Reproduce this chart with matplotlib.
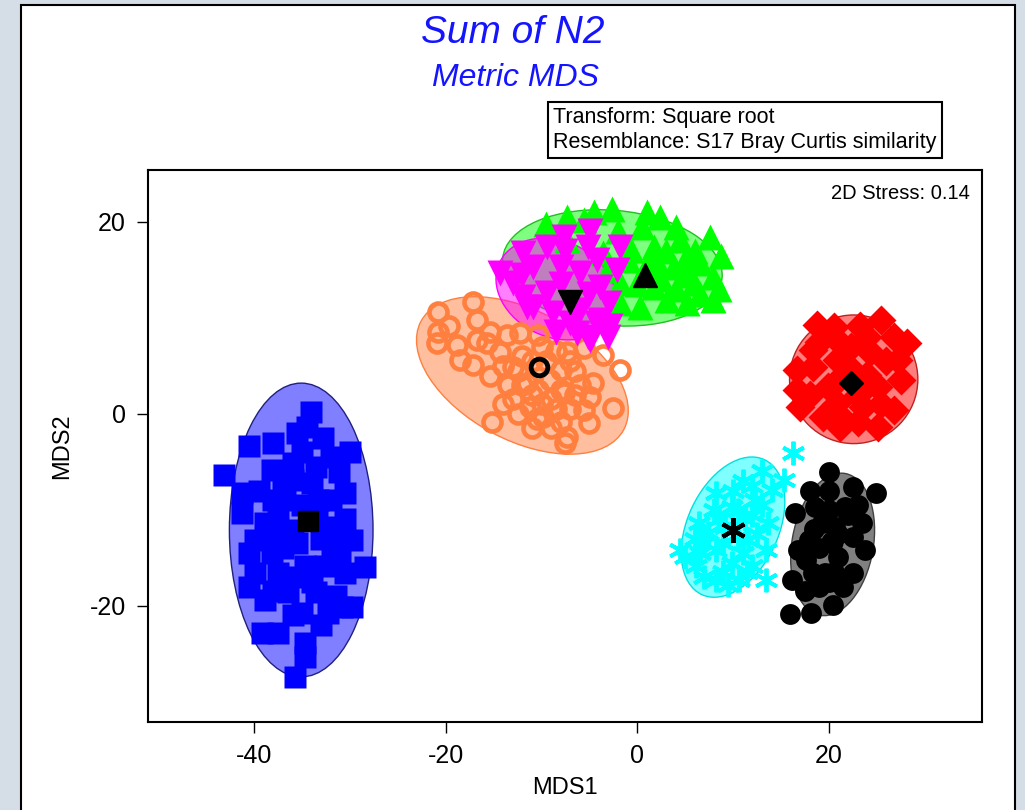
import matplotlib
matplotlib.use('Agg')
import matplotlib.pyplot as plt
from matplotlib.patches import Ellipse, Rectangle
from matplotlib.colors import to_rgba

plt.rcParams['font.family'] = ['Liberation Sans', 'DejaVu Sans']
plt.rcParams['axes.unicode_minus'] = False

# MDS scores per group
blue_pts = [(-34.1, 0.2), (-40.6, -3.4), (-38.0, -3.0), (-35.5, -2.0), (-32.8, -2.5), (-34.5, -1.4),
            (-43.2, -6.4), (-41.3, -8.2), (-41.3, -10.3), (-38.1, -5.8), (-36.0, -5.1), (-33.6, -5.5),
            (-31.2, -6.1), (-30.5, -8.2), (-30.5, -11.0), (-29.8, -13.1), (-28.4, -16.0), (-38.9, -11.4),
            (-36.8, -9.0), (-33.3, -9.0), (-38.1, -14.5), (-39.9, -16.6), (-40.6, -18.0), (-37.5, -16.6),
            (-34.7, -15.9), (-32.6, -15.9), (-30.5, -16.6), (-38.9, -19.4), (-36.5, -18.6), (-33.6, -18.6),
            (-30.8, -20.1), (-29.8, -20.1), (-32.3, -20.7), (-39.2, -22.8), (-37.5, -22.8), (-34.7, -23.9),
            (-34.7, -25.3), (-35.7, -27.4), (-35.0, -20.7), (-38.1, -12.4), (-36.0, -12.1), (-31.9, -11.8),
            (-31.9, -13.9), (-36.0, -6.9), (-34.0, -7.2), (-39.9, -13.1), (-35.0, -4.0), (-33.0, -13.0),
            (-37.0, -8.0), (-35.0, -9.5), (-32.0, -9.0), (-37.5, -11.0), (-33.5, -11.0), (-35.5, -13.5),
            (-37.0, -14.0), (-31.0, -15.0), (-34.0, -17.5), (-36.0, -17.0), (-31.5, -19.0), (-38.0, -18.5),
            (-36.0, -21.0), (-33.0, -22.0), (-39.5, -8.0), (-38.0, -9.0), (-32.0, -4.5), (-30.0, -4.0),
            (-40.5, -14.5)]
orange_pts = [(-20.8, 10.6), (-17.2, 11.6), (-16.7, 9.8), (-20.8, 8.5), (-20.9, 7.4), (-18.8, 7.2),
              (-18.5, 5.6), (-16.7, 7.7), (-17.2, 5.1), (-15.4, 8.5), (-15.4, 3.9), (-13.6, 8.2),
              (-12.2, 8.4), (-10.4, 8.2), (-14.3, 6.4), (-13.0, 4.9), (-13.0, 1.5), (-11.2, 0.7),
              (-9.8, -0.3), (-8.0, -0.9), (-7.3, -2.4), (-7.5, -3.0), (-15.2, -0.9), (-9.1, 3.5),
              (-7.7, 2.2), (-5.6, 0.4), (-4.6, 3.2), (-4.9, 1.8), (-5.6, 6.9), (-3.6, 6.1),
              (-1.8, 4.6), (-2.5, 0.6), (-7.3, 6.4), (-11.5, 3.2), (-15.7, 7.4), (-19.7, 9.1),
              (-10.4, 2.5), (-8.0, 4.6), (-12.0, 6.0), (-9.0, 1.5), (-6.5, 4.5), (-11.0, -1.5),
              (-12.0, 3.0), (-10.0, 1.0), (-8.0, 2.5), (-6.5, 2.0), (-9.0, -1.5), (-11.0, 5.5),
              (-13.5, 3.0), (-7.0, 0.5), (-5.0, -1.0), (-14.0, 1.0), (-8.5, 6.5), (-12.5, 0.0),
              (-10.0, 7.0), (-11.0, 2.0), (-9.5, 5.5), (-8.5, 0.5), (-6.0, 3.0), (-10.5, -0.5),
              (-12.5, 4.5), (-7.0, 5.5), (-14.0, 5.0)]
magenta_pts = [(-14.3, 14.7), (-13.0, 13.6), (-11.9, 12.2), (-10.9, 11.1), (-11.9, 16.8), (-9.4, 17.4),
               (-8.0, 15.3), (-4.9, 19.0), (-5.2, 17.4), (-1.8, 17.4), (-2.1, 15.0), (-3.9, 13.2),
               (-6.0, 14.7), (-9.4, 12.6), (-6.0, 10.8), (-3.9, 9.8), (-2.8, 9.1), (-6.3, 8.4),
               (-8.8, 10.5), (-10.9, 15.3), (-7.7, 18.4), (-4.2, 16.0), (-4.9, 7.7), (-11.5, 11.1),
               (-5.2, 8.0), (-3.1, 8.0), (-4.2, 9.5), (-8.0, 13.5), (-7.0, 9.5), (-5.0, 12.5),
               (-7.5, 17.0), (-3.0, 11.5), (-12.0, 14.5), (-8.5, 8.5)]
green_pts = [(-7.3, 20.5), (-5.6, 20.2), (-2.6, 21.3), (2.4, 20.5), (4.5, 18.1), (7.6, 18.4),
             (8.7, 16.4), (7.9, 14.3), (7.9, 11.9), (5.2, 11.5), (3.1, 11.9), (0.3, 11.1),
             (-1.8, 11.5), (-0.7, 17.1), (3.8, 15.3), (5.9, 13.6), (-3.6, 16.8), (-3.1, 15.0),
             (1.7, 17.4), (-1.8, 13.6), (1.7, 13.2), (-7.3, 18.1), (6.6, 15.7), (-9.5, 19.8),
             (0.5, 19.5), (3.0, 17.0), (5.0, 16.0), (1.0, 15.5), (2.5, 14.0), (4.0, 13.0),
             (6.5, 12.5), (0.0, 13.5), (-2.0, 19.0), (1.0, 21.0), (4.0, 19.5), (6.0, 17.0),
             (8.5, 13.0), (-4.5, 21.0), (2.0, 16.0), (-1.0, 16.0), (5.0, 14.5)]
red_pts = [(18.8, 9.3), (20.5, 8.0), (25.4, 9.8), (28.2, 7.4), (26.8, 8.0), (23.3, 9.1),
           (16.7, 4.6), (18.4, 4.9), (16.7, 2.5), (17.0, 0.7), (19.4, -0.3), (21.2, -1.4),
           (23.0, -0.9), (25.1, -1.4), (26.8, 0.4), (27.5, 3.5), (27.2, 5.6), (24.3, 6.4),
           (20.9, 5.6), (19.9, 2.8), (25.1, 2.8), (23.6, 0.7), (20.9, 1.1), (22.3, 7.0), (18.4, 6.7),
           (22.0, 5.0), (24.0, 4.0), (21.0, 3.5), (23.0, 2.0), (19.0, 7.5), (24.0, 8.0),
           (26.0, 5.5), (21.5, -0.5), (18.0, 2.0), (25.5, 1.0), (20.5, 9.0)]
cyan_pts = [(16.3, -4.1), (15.3, -6.9), (4.5, -14.2), (13.4, -17.3), (8.2, -8.2), (6.4, -11.4),
            (9.9, -9.7), (12.3, -9.0), (13.7, -11.4), (11.6, -13.1), (8.2, -14.2), (6.1, -15.9),
            (8.2, -17.3), (10.6, -17.3), (12.0, -15.9), (13.4, -14.2), (9.9, -15.5), (7.4, -12.4),
            (11.3, -11.0), (14.1, -7.9), (9.2, -11.8), (5.0, -14.9), (11.0, -7.0), (7.0, -17.0),
            (12.5, -12.5), (9.0, -13.5), (10.0, -8.0), (12.0, -10.5), (8.0, -10.0), (7.0, -13.5),
            (11.0, -14.5), (9.0, -16.5), (12.0, -7.5), (13.0, -9.5), (6.0, -13.0), (10.5, -12.8),
            (8.5, -11.0), (10.5, -10.0), (6.5, -14.5), (11.5, -16.5), (13.0, -6.0), (9.5, -17.8)]
black_pts = [(20.0, -6.1), (24.9, -8.2), (16.5, -10.3), (16.2, -17.3), (16.0, -20.9), (18.1, -20.7),
             (20.4, -19.9), (22.5, -16.6), (23.8, -14.2), (23.5, -11.4), (22.5, -7.6), (18.6, -9.7),
             (17.9, -13.1), (17.6, -15.2), (19.6, -16.6), (21.0, -14.9), (20.7, -11.8), (19.3, -11.4),
             (21.7, -9.7), (18.3, -16.6), (16.8, -14.2), (22.5, -12.8), (20.0, -8.0), (19.0, -18.0),
             (20.0, -10.0), (21.0, -12.5), (19.0, -14.0), (20.5, -16.5), (18.5, -12.0), (22.0, -10.5),
             (17.5, -18.5), (21.5, -18.0), (23.0, -9.5), (18.0, -8.0), (20.0, -17.5)]

# group centroids
centroids = {'blue': (-34.4, -11.2), 'orange': (-10.3, 4.9), 'magenta': (-7.0, 11.6),
             'green': (0.8, 14.5), 'red': (22.3, 3.2), 'cyan': (10.0, -12.1), 'black': (20.3, -13.4)}

# cluster overlays: centre, width, height, angle
overlays = {'blue': ((-35.1, -12.1), 15.0, 30.6, 0),
            'orange': ((-12.0, 4.0), 24.0, 13.5, -28),
            'green': ((-2.6, 15.2), 23.0, 12.0, -5),
            'magenta': ((-8.5, 13.0), 13.0, 10.0, -25),
            'red': ((22.6, 3.6), 13.4, 13.4, 0),
            'cyan': ((10.0, -11.8), 15.5, 9.5, 65),
            'black': ((20.4, -13.6), 15.0, 8.5, 80)}

colors = {'blue': '#0000ff', 'orange': '#ff7f3f', 'magenta': '#ff00ff', 'green': '#00ff00',
          'red': '#ff0000', 'cyan': '#00ffff', 'black': '#000000'}
edges = {'blue': '#202080', 'orange': '#ff7f3f', 'magenta': '#ff00ff', 'green': '#20c020',
         'red': '#c02020', 'cyan': '#00e0e0', 'black': '#404040'}

fig = plt.figure(figsize=(10.25, 8.1), dpi=100)
fig.patch.set_facecolor('#d5dee6')
# white panel with a black frame, behind the axes
panel = Rectangle((21 / 1025, -0.01), 994 / 1025, 1 - 5 / 810 + 0.01, transform=fig.transFigure,
                  facecolor='white', edgecolor='black', lw=1.5, zorder=-10)
fig.add_artist(panel)

ax = fig.add_axes([148 / 1025, 1 - 722 / 810, 834 / 1025, 552 / 810])
ax.set_facecolor('white')
ax.set_zorder(1)

for name, (c, w, h, a) in overlays.items():
    fc = to_rgba(colors[name], 0.5) if name != 'black' else (0.5, 0.5, 0.5, 1)
    ax.add_patch(Ellipse(c, w, h, angle=a, facecolor=fc, edgecolor=edges[name], lw=1, zorder=1))

def pts(p):
    return [q[0] for q in p], [q[1] for q in p]

x, y = pts(blue_pts)
ax.plot(x, y, 's', color=colors['blue'], ms=15.5, mec='none', zorder=2)
x, y = pts(orange_pts)
ax.plot(x, y, 'o', mfc='none', mec=colors['orange'], ms=13, mew=3.3, zorder=2)
x, y = pts(green_pts)
ax.plot(x, y, '^', color=colors['green'], ms=19, mec='none', zorder=2)
x, y = pts(magenta_pts)
ax.plot(x, y, 'v', color=colors['magenta'], ms=19, mec='none', zorder=2)
x, y = pts(red_pts)
ax.plot(x, y, 'D', color=colors['red'], ms=15, mec='none', zorder=2)
x, y = pts(cyan_pts)
ax.plot(x, y, marker=(6, 2, 0), ls='none', color=colors['cyan'], mec=colors['cyan'], ms=17, mew=2.8, zorder=2)
x, y = pts(black_pts)
ax.plot(x, y, 'o', color='black', ms=15, mec='none', zorder=2)

# centroids in black
ax.plot(*centroids['blue'], 's', color='black', ms=14, zorder=3)
ax.plot(*centroids['orange'], 'o', mfc='none', mec='black', ms=12, mew=3.5, zorder=3)
ax.plot(*centroids['magenta'], 'v', color='black', ms=17, zorder=3)
ax.plot(*centroids['green'], '^', color='black', ms=17, zorder=3)
ax.plot(*centroids['red'], 'D', color='black', ms=12, zorder=3)
ax.plot(*centroids['cyan'], marker=(6, 2, 0), color='black', mec='black', ms=18, mew=3, zorder=3)
ax.plot(*centroids['black'], 'o', color='black', ms=15, zorder=3)

ax.set_xlim(-51.1, 36.0)
ax.set_ylim(-32.1, 25.4)
ax.set_xticks([-40, -20, 0, 20])
ax.set_yticks([-20, 0, 20])
ax.tick_params(direction='out', length=8, width=1, labelsize=18, pad=8)
for s in ax.spines.values():
    s.set_linewidth(1.5)
ax.set_xlabel('MDS1', fontsize=17, labelpad=6)
ax.set_ylabel('MDS2', fontsize=17, labelpad=12)

ax.text(0.985, 0.975, '2D Stress: 0.14', transform=ax.transAxes, ha='right', va='top', fontsize=14.5)

fig.text(513 / 1025, 1 - 33 / 810, 'Sum of N2', ha='center', va='center', fontsize=28,
         style='italic', color='#1414ff')
fig.text(515 / 1025, 1 - 78 / 810, 'Metric MDS', ha='center', va='center', fontsize=23,
         style='italic', color='#1414ff')
fig.text(553 / 1025, 1 - 130 / 810, 'Transform: Square root\nResemblance: S17 Bray Curtis similarity',
         ha='left', va='center', fontsize=15.5, linespacing=1.2,
         bbox=dict(boxstyle='square,pad=0.25', facecolor='white', edgecolor='black', lw=1.5))

fig.savefig('out.png', dpi=100, facecolor=fig.get_facecolor())
